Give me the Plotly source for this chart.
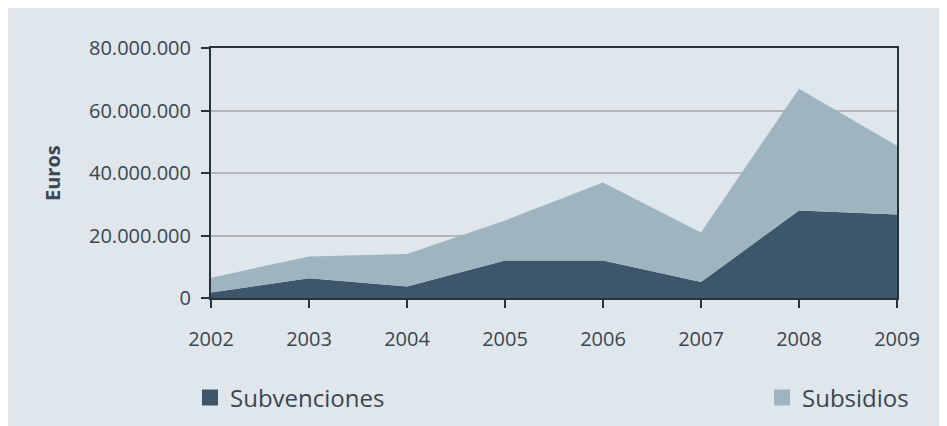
import plotly.graph_objects as go

years = [2002, 2003, 2004, 2005, 2006, 2007, 2008, 2009]
subvenciones = [1.8e6, 6.3e6, 3.7e6, 12.0e6, 12.0e6, 5.1e6, 28.0e6, 26.7e6]
subsidios = [4.7e6, 7.0e6, 10.4e6, 12.8e6, 25.0e6, 15.9e6, 39.0e6, 22.0e6]
y_ticks = [0, 20e6, 40e6, 60e6, 80e6]
series_names = ["Subvenciones", "Subsidios"]

BG = "#dfe7ed"
DARK = "#3d5669"
LIGHT = "#9eb5c0"
AXIS = "#25333d"
TEXT = "#3a4650"
FONT = "Open Sans"

OFF = 8  # default page body margin
W, H = 947, 426
L, R, T, B = 203, 58, 40, 136
pw, ph = W - L - R, H - T - B


def px_x(p):
    return (p - OFF - L) / pw


def px_y(p):
    return (H - B - (p - OFF)) / ph


fig = go.Figure()
fig.add_trace(go.Scatter(
    x=years, y=subvenciones, name=series_names[0], stackgroup="s",
    mode="none", fillcolor=DARK, line=dict(width=0), showlegend=False,
))
fig.add_trace(go.Scatter(
    x=years, y=subsidios, name=series_names[1], stackgroup="s",
    mode="none", fillcolor=LIGHT, line=dict(width=0), showlegend=False,
))
# legend entries (square swatches)
for name, col, lg in [(series_names[0], DARK, "legend"), (series_names[1], LIGHT, "legend2")]:
    fig.add_trace(go.Scatter(
        x=[None], y=[None], mode="markers", name=name, legend=lg,
        marker=dict(symbol="square", size=17, color=col),
        showlegend=True, hoverinfo="skip",
    ))

fig.update_layout(
    width=W, height=H,
    margin=dict(l=L, r=R, t=T, b=B),
    paper_bgcolor=BG,
    plot_bgcolor="rgba(0,0,0,0)",
    separators=",.",
    showlegend=True,
    font=dict(family=FONT, color=TEXT, size=20),
    xaxis=dict(
        range=[2002, 2009], tickvals=years, ticks="outside", ticklen=8,
        tickwidth=2, tickcolor=AXIS, showline=True, linecolor=AXIS,
        linewidth=2, mirror=True, showgrid=False, zeroline=False,
        tickfont=dict(size=20, color=TEXT), ticklabelstandoff=14,
    ),
    yaxis=dict(
        range=[0, 80e6], tickvals=y_ticks, tickformat=",d", ticks="outside",
        ticklen=8, tickwidth=2, tickcolor=AXIS, showline=True,
        linecolor=AXIS, linewidth=2, mirror=True, showgrid=True,
        gridcolor="#b3b7b9", gridwidth=2, zeroline=False,
        tickfont=dict(size=20, color=TEXT), ticklabelstandoff=6,
    ),
    annotations=[dict(
        text="<b>Euros</b>", xref="paper", yref="paper",
        x=px_x(52), y=px_y(173), textangle=-90, showarrow=False,
        xanchor="center", yanchor="middle",
        font=dict(size=20, color=TEXT, family=FONT),
    )],
    legend=dict(
        x=px_x(190), y=px_y(398), xanchor="left", yanchor="middle",
        orientation="h", bgcolor="rgba(0,0,0,0)", itemsizing="trace",
        font=dict(size=24, color=TEXT), itemwidth=30,
    ),
    legend2=dict(
        x=px_x(762), y=px_y(398), xanchor="left", yanchor="middle",
        orientation="h", bgcolor="rgba(0,0,0,0)", itemsizing="trace",
        font=dict(size=24, color=TEXT), itemwidth=30,
    ),
)

fig.write_html(
    "out.html",
    post_script="document.documentElement.style.overflow='hidden';document.body.style.overflow='hidden';",
)
